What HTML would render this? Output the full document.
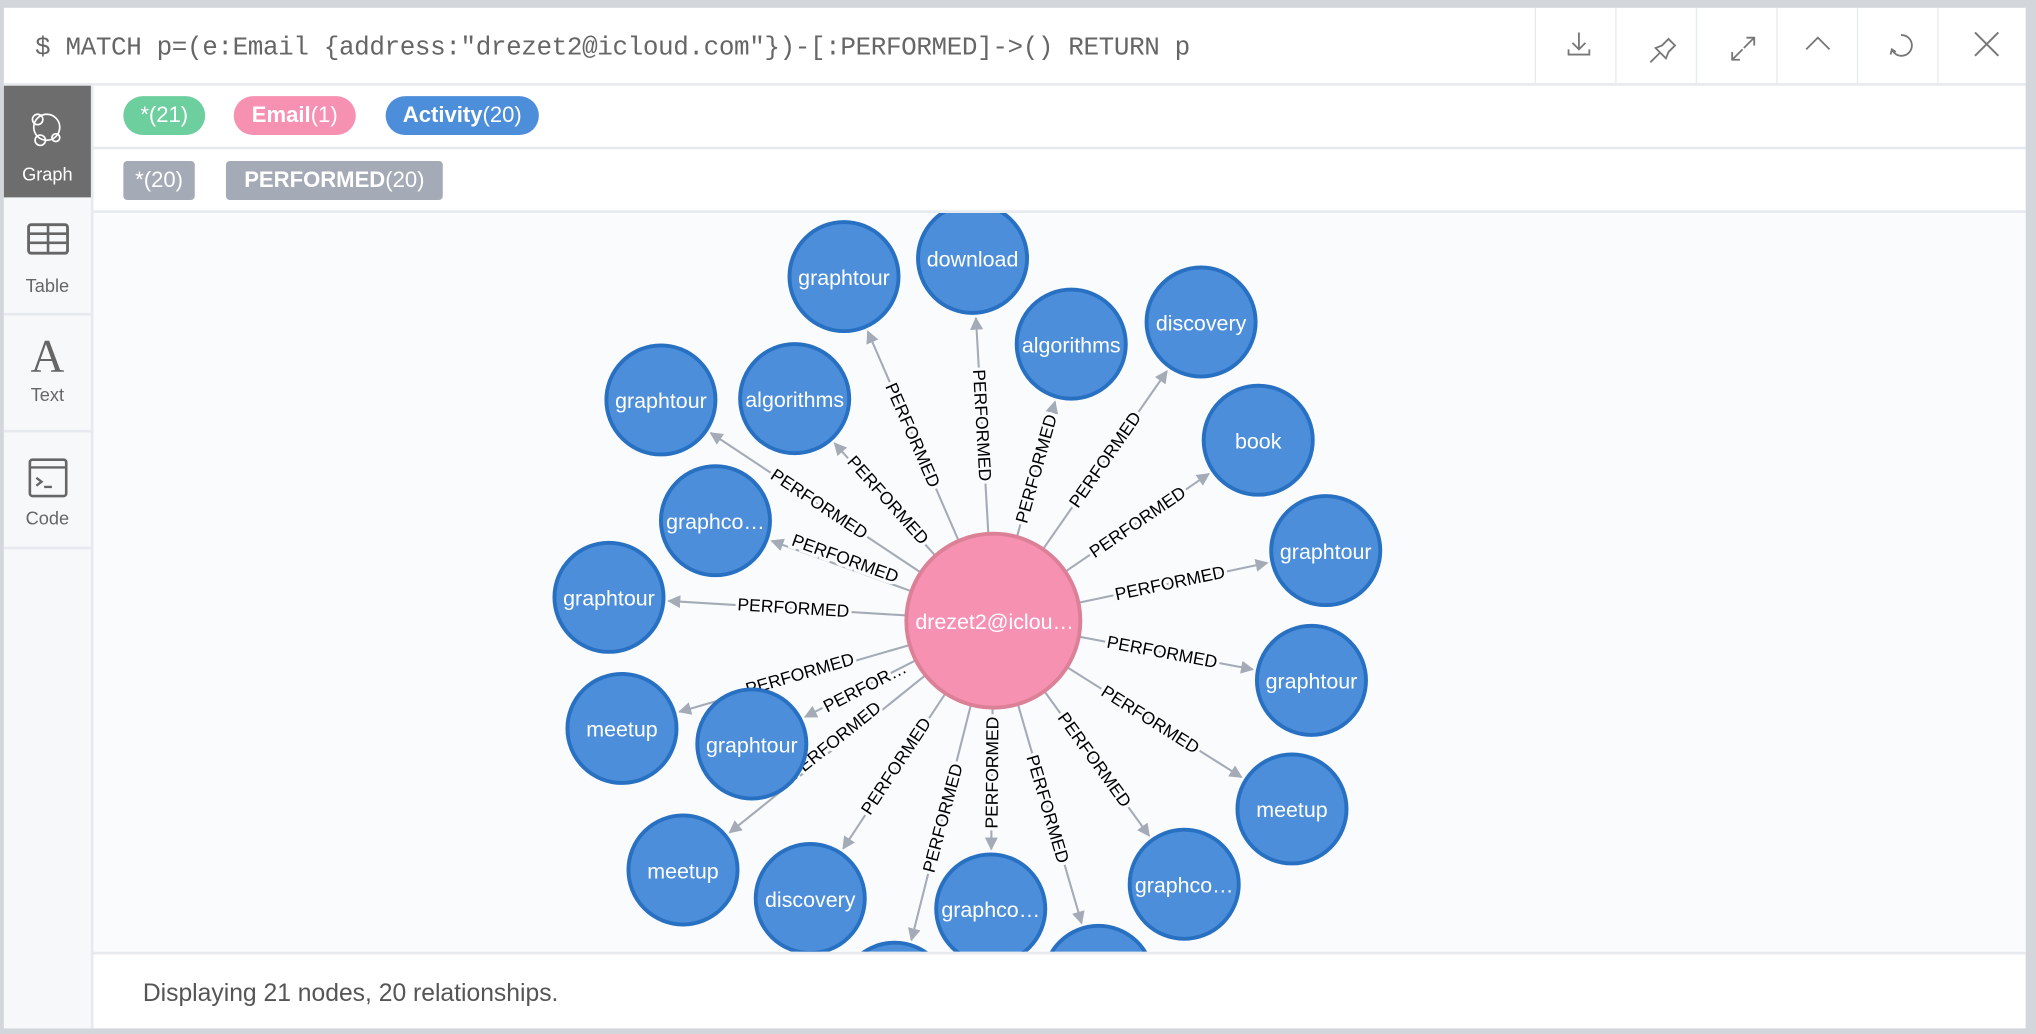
<!DOCTYPE html>
<html><head><meta charset="utf-8"><style>
html,body{margin:0;padding:0;width:2036px;height:1034px;overflow:hidden;background:#d3d6da;}
#w{position:absolute;left:0;top:0;width:1568px;height:796px;transform:scale(1.29847);transform-origin:0 0;font-family:"Liberation Sans",sans-serif;}
.card{position:absolute;left:3px;top:6px;width:1557px;height:786px;background:#fff;}
.hdr{position:absolute;left:0;top:0;width:1557px;height:58px;border-bottom:2px solid #e6e9ee;}
.q{position:absolute;left:24px;top:20px;font-family:"Liberation Mono",monospace;font-size:20px;color:#666;letter-spacing:-0.3px;}
.btn{position:absolute;top:0;width:61px;height:58px;border-left:1.5px solid #e6e9ee;}
.side{position:absolute;left:0;top:60px;width:67px;height:726px;background:#f7f8fa;border-right:2px solid #e6e9ee;}
.si{position:absolute;left:0;width:67px;border-bottom:2px solid #e6e9ee;text-align:center;color:#666;font-size:14px;}
.pill{position:absolute;height:30px;line-height:30px;color:#fff;font-size:17px;padding:0 0;text-align:center;}
.gr{position:absolute;left:69px;top:156px;width:1488px;height:569px;background:#f9fbfd;border-top:2px solid #e6e9ee;border-bottom:2px solid #e6e9ee;overflow:hidden;}
.ft{position:absolute;left:107px;top:749px;font-size:19px;color:#555;}
</style></head><body><div id="w">
<div class="card">
 <div class="hdr">
  <div class="q">$ MATCH p=(e:Email {address:"drezet2@icloud.com"})-[:PERFORMED]-&gt;() RETURN p</div>
  <div class="btn" style="left:1179px"><svg width="61" height="58"><path d="M33 19v13M28 27l5 5 5-5M25 32v4h16v-4" stroke="#777" stroke-width="1.4" fill="none"/></svg></div>
  <div class="btn" style="left:1241px"><svg width="61" height="58"><path d="M26 42l7-7M30 31l8 8 2-5 5-5-5-5-5 5z" stroke="#777" stroke-width="1.4" fill="none"/></svg></div>
  <div class="btn" style="left:1303px"><svg width="61" height="58"><path d="M27 40l8-8M27 34v6h6M44 23l-8 8M38 23h6v6" stroke="#777" stroke-width="1.4" fill="none"/></svg></div>
  <div class="btn" style="left:1365px"><svg width="61" height="58"><path d="M22 32l9-9 9 9" stroke="#777" stroke-width="1.4" fill="none"/></svg></div>
  <div class="btn" style="left:1427px"><svg width="61" height="58"><path d="M33 21a8 8 0 1 1-7 11M25 36l1-4 3 2" stroke="#777" stroke-width="1.4" fill="none"/></svg></div>
  <div class="btn" style="left:1489px;width:68px"><svg width="68" height="58"><path d="M28 19l18 18M46 19L28 37" stroke="#777" stroke-width="1.5" fill="none"/></svg></div>
 </div>
 <div class="side">
  <div class="si" style="top:0;height:86px;background:#6d6d6d;color:#fff;border:none"><svg width="67" height="52" style="display:block"><g stroke="#fff" stroke-width="1.3" fill="none"><circle cx="33" cy="32" r="10"/><circle cx="26" cy="26" r="4"/><circle cx="28" cy="42" r="4"/><circle cx="40" cy="40" r="3"/></g></svg><div style="margin-top:8px">Graph</div></div>
  <div class="si" style="top:88px;height:87px"><svg width="67" height="50" style="display:block"><rect x="19" y="19" width="30" height="22" rx="2" stroke="#666" stroke-width="2.2" fill="none"/><path d="M19 26h30M19 33h30M34 19v22" stroke="#666" stroke-width="2"/></svg><div style="margin-top:8px">Table</div></div>
  <div class="si" style="top:177px;height:88px"><div style="font-family:'Liberation Serif',serif;font-size:36px;margin-top:13px;line-height:36px">A</div><div style="margin-top:4px">Text</div></div>
  <div class="si" style="top:267px;height:88px"><svg width="67" height="52" style="display:block"><rect x="20" y="21" width="28" height="28" rx="2" stroke="#666" stroke-width="2" fill="none"/><path d="M20 27h28M25 35l4 3-4 3M31 42h6" stroke="#666" stroke-width="1.8" fill="none"/></svg><div style="margin-top:6px">Code</div></div>
 </div>
 <div style="position:absolute;left:69px;top:107px;width:1488px;height:2px;background:#e6e9ee"></div>
 <div class="pill" style="left:92px;top:68px;width:63px;border-radius:15px;background:#6dce9e">*(21)</div>
 <div class="pill" style="left:177px;top:68px;width:94px;border-radius:15px;background:#f691b2"><b>Email</b>(1)</div>
 <div class="pill" style="left:294px;top:68px;width:118px;border-radius:15px;background:#4c8eda"><b>Activity</b>(20)</div>
 <div class="pill" style="left:92px;top:118px;width:55px;border-radius:3px;background:#a5abb6">*(20)</div>
 <div class="pill" style="left:171px;top:118px;width:167px;border-radius:3px;background:#a5abb6"><b>PERFORMED</b>(20)</div>
 <div class="gr">
 <svg width="1488" height="569" viewBox="72 162 1488 569" style="position:absolute;left:0;top:0">
 <defs><marker id="a" viewBox="0 0 10 10" refX="9" refY="5" markerWidth="10" markerHeight="10" markerUnits="userSpaceOnUse" orient="auto"><path d="M0 0L10 5L0 10z" fill="#a5abb6"/></marker></defs>
 <g stroke="#a5abb6" stroke-width="1.6" marker-end="url(#a)">
 <line x1="737.9" y1="413.6" x2="668.3" y2="253.2"/>
 <line x1="761.1" y1="408.1" x2="751.6" y2="242.9"/>
 <line x1="783.4" y1="410.6" x2="812.5" y2="307.3"/>
 <line x1="803.8" y1="420.2" x2="898.7" y2="283.8"/>
 <line x1="821.2" y1="437.7" x2="931" y2="362.9"/>
 <line x1="831.5" y1="462" x2="976" y2="431.5"/>
 <line x1="831.8" y1="488.5" x2="964.8" y2="513.5"/>
 <line x1="822.5" y1="512.3" x2="956.1" y2="596.5"/>
 <line x1="804.9" y1="531.1" x2="885" y2="641.7"/>
 <line x1="784.2" y1="541.3" x2="833" y2="709"/>
 <line x1="764.4" y1="544" x2="763.4" y2="652"/>
 <line x1="747.5" y1="541.7" x2="701.9" y2="722"/>
 <line x1="727.6" y1="532.8" x2="649.3" y2="651.6"/>
 <line x1="712" y1="518.6" x2="561.9" y2="639.2"/>
 <line x1="704.5" y1="506.9" x2="620" y2="550.1"/>
 <line x1="699.7" y1="495" x2="523.2" y2="546.2"/>
 <line x1="697.1" y1="471.9" x2="514.9" y2="460.8"/>
 <line x1="701" y1="453" x2="594.3" y2="414.6"/>
 <line x1="719.7" y1="425.3" x2="642.7" y2="339.3"/>
 <line x1="708.4" y1="438.4" x2="547.3" y2="331.4"/>
 </g>
 <g font-size="13.5" fill="#000" text-anchor="middle" dominant-baseline="central" stroke="#f9fbfd" stroke-width="5" paint-order="stroke" font-family="Liberation Sans, sans-serif">
 <text transform="translate(703,333) rotate(66.5)">PERFORMED</text>
 <text transform="translate(756.4,325.5) rotate(86.7)">PERFORMED</text>
 <text transform="translate(798,359) rotate(-74.3)">PERFORMED</text>
 <text transform="translate(851,352) rotate(-55.2)">PERFORMED</text>
 <text transform="translate(876,400) rotate(-34.3)">PERFORMED</text>
 <text transform="translate(901,447) rotate(-11.9)">PERFORMED</text>
 <text transform="translate(895,500) rotate(10.6)">PERFORMED</text>
 <text transform="translate(886,552) rotate(32.2)">PERFORMED</text>
 <text transform="translate(843,583) rotate(54.1)">PERFORMED</text>
 <text transform="translate(807,621) rotate(73.6)">PERFORMED</text>
 <text transform="translate(764,593) rotate(-89.5)">PERFORMED</text>
 <text transform="translate(726,628) rotate(-75.1)">PERFORMED</text>
 <text transform="translate(690,588) rotate(-56.6)">PERFORMED</text>
 <text transform="translate(643,568) rotate(-38.8)">PERFORMED</text>
 <text transform="translate(666,527) rotate(-27)">PERFOR…</text>
 <text transform="translate(616,517) rotate(-16.2)">PERFORMED</text>
 <text transform="translate(611,466) rotate(3.5)">PERFORMED</text>
 <text transform="translate(651,428) rotate(19.8)">PERFORMED</text>
 <text transform="translate(684,383) rotate(48.2)">PERFORMED</text>
 <text transform="translate(631,386) rotate(33.6)">PERFORMED</text>
 </g>
 <g fill="#4c8eda" stroke="#2870c2" stroke-width="3">
 <circle cx="650" cy="211" r="42"/><circle cx="749" cy="197" r="42"/><circle cx="825" cy="263" r="42"/><circle cx="925" cy="246" r="42"/><circle cx="969" cy="337" r="42"/><circle cx="1021" cy="422" r="42"/><circle cx="1010" cy="522" r="42"/><circle cx="995" cy="621" r="42"/><circle cx="912" cy="679" r="42"/><circle cx="846" cy="753" r="42"/><circle cx="763" cy="698" r="42"/><circle cx="689" cy="766" r="42"/><circle cx="624" cy="690" r="42"/><circle cx="526" cy="668" r="42"/><circle cx="579" cy="571" r="42"/><circle cx="479" cy="559" r="42"/><circle cx="469" cy="458" r="42"/><circle cx="551" cy="399" r="42"/><circle cx="612" cy="305" r="42"/><circle cx="509" cy="306" r="42"/>
 </g>
 <circle cx="765" cy="476" r="67" fill="#f691b2" stroke="#dc8098" stroke-width="3"/>
 <g font-size="16.5" fill="#fff" text-anchor="middle" dominant-baseline="central" font-family="Liberation Sans, sans-serif">
 <text x="650" y="212">graphtour</text><text x="749" y="198">download</text><text x="825" y="264">algorithms</text><text x="925" y="247">discovery</text><text x="969" y="338">book</text><text x="1021" y="423">graphtour</text><text x="1010" y="523">graphtour</text><text x="995" y="622">meetup</text><text x="912" y="680">graphco…</text><text x="763" y="699">graphco…</text><text x="624" y="691">discovery</text><text x="526" y="669">meetup</text><text x="579" y="572">graphtour</text><text x="479" y="560">meetup</text><text x="469" y="459">graphtour</text><text x="551" y="400">graphco…</text><text x="612" y="306">algorithms</text><text x="509" y="307">graphtour</text>
 <text x="766" y="477">drezet2@iclou…</text>
 </g>
 </svg>
 </div>
 <div class="ft">Displaying 21 nodes, 20 relationships.</div>
</div>
</div></body></html>
